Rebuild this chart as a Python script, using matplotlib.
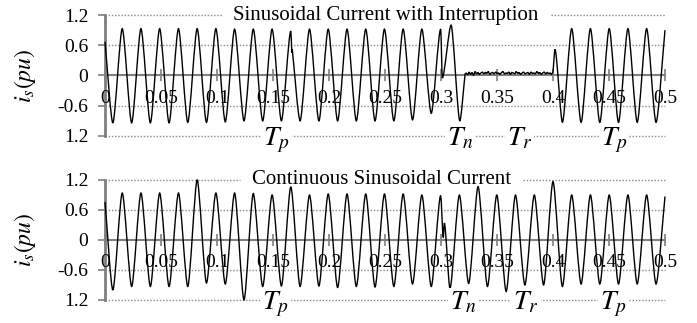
import numpy as np
import matplotlib.pyplot as plt
from matplotlib.path import Path
from matplotlib.patches import PathPatch

plt.rcParams['font.family'] = ['Liberation Serif', 'DejaVu Serif']
plt.rcParams['mathtext.fontset'] = 'stix'

# times (s) of the half-cycle peaks/troughs
ext_t = [0.0070, 0.0154, 0.0238, 0.0321, 0.0405, 0.0488, 0.0572, 0.0656, 0.0739, 0.0823,
         0.0906, 0.0990, 0.1074, 0.1157, 0.1241, 0.1324, 0.1408, 0.1492, 0.1575, 0.1659,
         0.1742, 0.1826, 0.1910, 0.1993, 0.2077, 0.2161, 0.2244, 0.2328, 0.2411, 0.2495,
         0.2579, 0.2662, 0.2746, 0.2829, 0.2913, 0.2997, 0.3080, 0.3164, 0.3247, 0.3331,
         0.3415, 0.3498, 0.3582, 0.3665, 0.3749, 0.3833, 0.3916, 0.4000, 0.4084, 0.4167,
         0.4251, 0.4334, 0.4418, 0.4502, 0.4585, 0.4669, 0.4752, 0.4836, 0.4920]

# --- upper trace: current with interruption ---
top_start = 0.67
top_pre_v = [-0.94, 0.93, -0.94, 0.93, -0.94, 0.93, -0.94, 0.93, -0.93, 0.93,
             -0.93, 0.93, -0.92, 0.92, -0.90, 0.92, -0.90, 0.92, -0.90, 0.88,
             -0.90, 0.92, -0.90, 0.92, -0.90, 0.92, -0.90, 0.92, -0.90, 0.92,
             -0.90, 0.92, -0.88, 0.92, -0.75, 0.92]
top_kink_t = [0.1668, 0.1672]
top_kink_v = [0.45, 0.52]
top_fault_t = [0.3012, 0.3090, 0.3168, 0.3215]
top_fault_v = [-0.05, 1.00, -0.90, 0.03]
gap_ripple = [0.05, 0.01, 0.07, 0.02, 0.06, 0.00, 0.08, 0.03, 0.06, 0.02,
              0.05, 0.07, 0.03, 0.06, 0.04, 0.08, 0.02, 0.05, 0.06, 0.03,
              0.07, 0.04, 0.05, 0.02, 0.06, 0.08, 0.03, 0.05, 0.04, 0.07,
              0.02, 0.06, 0.05, 0.03, 0.08, 0.04, 0.06, 0.02, 0.05, 0.07,
              0.03, 0.05, 0.06, 0.02, 0.07, 0.04, 0.05, 0.03, 0.08, 0.04,
              0.06, 0.02, 0.05, 0.07, 0.03, 0.06, 0.04, 0.05, 0.02, 0.07]
gap_start, gap_end = 0.3225, 0.4000
top_restart_t = [0.4018]
top_restart_v = [0.52]
top_post_v = [-0.93, 0.93, -0.93, 0.93, -0.93, 0.93, -0.93, 0.93, -0.93, 0.93, -0.93]
top_end = 0.90

# --- lower trace: continuous current ---
bot_start = 0.76
bot_v = [-1.00, 0.94, -0.93, 0.94, -0.93, 0.94, -0.93, 0.94, -0.93, 1.20,
         -0.86, 0.94, -0.88, 0.94, -1.20, 0.93, -0.93, 0.90, -0.92, 1.06,
         -0.93, 0.90, -0.92, 0.92, -0.95, 0.92, -0.93, 0.92, -0.94, 0.92,
         -0.93, 0.92, -0.88, 0.90, -0.93, 0.89, -0.97, 0.90, -0.87, 1.07,
         -0.93, 0.90, -1.03, 0.90, -0.90, 0.90, -0.90, 1.17, -0.93, 0.90,
         -0.88, 0.90, -0.88, 0.90, -0.88, 0.90, -0.88, 0.90, -0.88]
bot_kink_t = [0.3020, 0.3030]
bot_kink_v = [0.05, 0.34]
bot_end = 0.87

# axis text
y_ticks = [1.2, 0.6, 0, -0.6, -1.2]
y_tick_labels = ['1.2', '0.6', '0', '-0.6', '1.2']
x_ticks = [0, 0.05, 0.1, 0.15, 0.2, 0.25, 0.3, 0.35, 0.4, 0.45, 0.5]
x_tick_labels = ['0', '0.05', '0.1', '0.15', '0.2', '0.25', '0.3', '0.35', '0.4', '0.45', '0.5']
titles = ['Sinusoidal Current with Interruption', 'Continuous Sinusoidal Current']
title_x = [0.2509, 0.2473]
title_gap = [(0.1045, 0.398), (0.1205, 0.373)]
period_labels = [r'$T_p$', r'$T_n$', r'$T_r$', r'$T_p$']
period_x = [[0.153, 0.317, 0.370, 0.4545], [0.152, 0.320, 0.376, 0.4535]]

# assemble traces: (time, value, is_extremum)
n_pre = len(top_pre_v)
gap_t = np.linspace(gap_start, gap_end, len(gap_ripple))
top_pts = ([(0.0, top_start, False)]
           + [(t, v, True) for t, v in zip(ext_t[:n_pre], top_pre_v)]
           + [(t, v, False) for t, v in zip(top_kink_t, top_kink_v)]
           + [(t, v, True) for t, v in zip(top_fault_t[:-1], top_fault_v[:-1])]
           + [(top_fault_t[-1], top_fault_v[-1], False)]
           + [(t, v, False) for t, v in zip(gap_t, gap_ripple)]
           + [(t, v, True) for t, v in zip(top_restart_t, top_restart_v)]
           + [(t, v, True) for t, v in zip(ext_t[-len(top_post_v):], top_post_v)]
           + [(0.5, top_end, False)])
bot_pts = ([(0.0, bot_start, False)]
           + [(t, v, True) for t, v in zip(ext_t, bot_v)]
           + [(t, v, True) for t, v in zip(bot_kink_t, bot_kink_v)]
           + [(0.5, bot_end, False)])


def wave_path(pts, k=0.25):
    # smooth half-cycle curves between the read extrema (cubic Bezier, flat at extrema)
    pts = sorted(pts, key=lambda p: p[0])
    verts = [(pts[0][0], pts[0][1])]
    codes = [Path.MOVETO]
    for (t0, v0, e0), (t1, v1, e1) in zip(pts[:-1], pts[1:]):
        dt = t1 - t0
        c1 = (t0 + k * dt, v0 if e0 else v0 + k * (v1 - v0))
        c2 = (t1 - k * dt, v1 if e1 else v1 - k * (v1 - v0))
        verts += [c1, c2, (t1, v1)]
        codes += [Path.CURVE4] * 3
    return Path(verts, codes)


fig = plt.figure(figsize=(6.97, 3.23), dpi=100)
ax_top = fig.add_axes([0.15065, 0.57895, 0.80344, 0.37461])
ax_bot = fig.add_axes([0.15065, 0.07121, 0.80344, 0.37152])

grid_c = '#8a8a8a'
axis_c = '#7f7f7f'
for i, (ax, pts) in enumerate([(ax_top, top_pts), (ax_bot, bot_pts)]):
    ax.set_xlim(0, 0.5)
    ax.set_ylim(-1.2, 1.2)

    # dotted reference lines
    dots = dict(colors=grid_c, linestyles=(0, (1, 1.3)), linewidth=1.0, clip_on=False, zorder=1)
    ax.hlines([0.6, -0.6, -1.2], 0, 0.5, **dots)
    g0, g1 = title_gap[i]
    ax.hlines([1.2, 1.2], [0, g1], [g0, 0.5], **dots)

    ax.add_patch(PathPatch(wave_path(pts), facecolor='none', edgecolor='black',
                           linewidth=1.0, zorder=3, clip_on=False))

    for s in ['top', 'right']:
        ax.spines[s].set_visible(False)
    ax.spines['bottom'].set_position(('data', 0))
    ax.spines['bottom'].set_color(axis_c)
    ax.spines['bottom'].set_linewidth(1.5)
    ax.spines['left'].set_color(axis_c)
    ax.spines['left'].set_linewidth(2.0)

    ax.set_yticks(y_ticks)
    ax.set_yticklabels(y_tick_labels, fontsize=14)
    ax.tick_params(axis='y', direction='out', length=5, width=1.2, color=axis_c, pad=7)
    ax.set_xticks(x_ticks)
    ax.set_xticklabels([])
    ax.tick_params(axis='x', direction='inout', length=8, width=1.2, color=axis_c)

    for xv, lab in zip(x_ticks, x_tick_labels):
        ax.text(xv, -0.46, lab, fontsize=14, ha='center', va='center', zorder=4)

    ax.text(title_x[i], 1.2, titles[i], fontsize=15, ha='center', va='center')

    for xv, lab in zip(period_x[i], period_labels):
        ax.text(xv, -1.39, lab, fontsize=20, ha='center', va='baseline', clip_on=False,
                bbox=dict(facecolor='white', edgecolor='none', pad=1.5), zorder=5)

fig.text(0.036, 0.765, r'$i_s(pu)$', rotation=90, fontsize=17, ha='center', va='center')
fig.text(0.036, 0.257, r'$i_s(pu)$', rotation=90, fontsize=17, ha='center', va='center')

fig.savefig('out.png', dpi=100)
